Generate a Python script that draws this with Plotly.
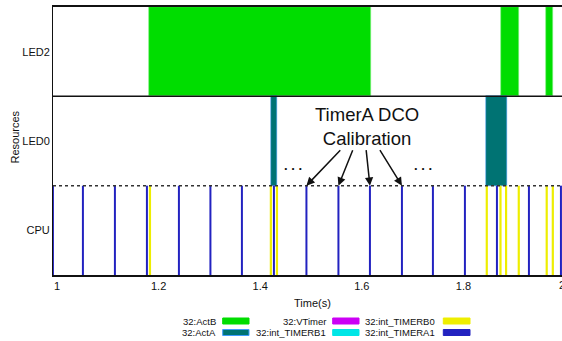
import plotly.graph_objects as go

# ---------------- data ----------------
rows = ["CPU", "LED0", "LED2"]
row_centers = [0.5, 1.5, 2.5]

actb_start = [1.182, 1.874, 1.963]   # LED2 : 32:ActB
actb_end = [1.618, 1.909, 1.977]
acta_start = [1.422, 1.845]          # LED0 : 32:ActA
acta_end = [1.433, 1.885]

timera1 = [0.992, 1.051, 1.114, 1.177, 1.240, 1.302, 1.364, 1.427, 1.491,
           1.554, 1.616, 1.679, 1.740, 1.803, 1.866, 1.929, 1.992]   # CPU : 32:int_TIMERA1
timerb0 = [1.183, 1.421, 1.433, 1.846, 1.873, 1.884, 1.909, 1.964, 1.976]  # CPU : 32:int_TIMERB0

calib_idx = [8, 9, 10, 11]   # TIMERA1 events pointed at by the annotation

x_ticks = [1.0, 1.2, 1.4, 1.6, 1.8]
x_tick_text = ["1", "1.2", "1.4", "1.6", "1.8"]

legend_names = ["32:ActB", "32:ActA", "32:VTimer", "32:int_TIMERB1", "32:int_TIMERB0", "32:int_TIMERA1"]
colors = {
    "32:ActB": "#00DD00",
    "32:ActA": "#007373",
    "32:VTimer": "#CC00F5",
    "32:int_TIMERB1": "#00E6E6",
    "32:int_TIMERB0": "#EEEE00",
    "32:int_TIMERA1": "#2222C0",
}
edge = {"32:ActA": "#3D9BFF"}

FONT = "Liberation Sans, Arial, sans-serif"
W, H = 562, 341
L, R, T, B = 53, 0, 7, 66
PW, PH = W - L - R, H - T - B


def px(xp):
    return (xp - L) / PW


def py(yp):
    return (H - B - yp) / PH


def vlines(ts):
    xs, ys = [], []
    for t in ts:
        xs += [t, t, None]
        ys += [0, 1, None]
    return xs, ys


fig = go.Figure()

# LED intervals as horizontal bars
fig.add_trace(go.Bar(
    orientation="h", y=[row_centers[2]] * len(actb_start), base=actb_start,
    x=[e - s for s, e in zip(actb_start, actb_end)], width=1,
    marker=dict(color=colors["32:ActB"], line=dict(color="#7CF07C", width=0.6)),
    name="32:ActB", showlegend=False, hoverinfo="skip"))
fig.add_trace(go.Bar(
    orientation="h", y=[row_centers[1]] * len(acta_start), base=acta_start,
    x=[e - s for s, e in zip(acta_start, acta_end)], width=1,
    marker=dict(color=colors["32:ActA"], line=dict(color=edge["32:ActA"], width=0.5)),
    name="32:ActA", showlegend=False, hoverinfo="skip"))

# CPU events as vertical lines
xa, ya = vlines(timera1)
fig.add_trace(go.Scatter(x=xa, y=ya, mode="lines", line=dict(color=colors["32:int_TIMERA1"], width=2),
                         name="32:int_TIMERA1", showlegend=False, hoverinfo="skip"))
xb, yb = vlines(timerb0)
fig.add_trace(go.Scatter(x=xb, y=yb, mode="lines", line=dict(color=colors["32:int_TIMERB0"], width=2.2),
                         name="32:int_TIMERB0", showlegend=False, hoverinfo="skip"))

x0 = 1 + (L - 57) / 508
x1 = 1 + (W - R - 57) / 508

shapes = []
# row separators
shapes.append(dict(type="line", xref="paper", yref="y", x0=0, x1=1, y0=2, y1=2,
                   line=dict(color="#111111", width=1.5)))
shapes.append(dict(type="line", xref="paper", yref="y", x0=0, x1=1, y0=1, y1=1,
                   line=dict(color="#333333", width=1.5, dash="dot")))

annotations = []
# Calibration annotation text
annotations.append(dict(x=px(366.7), y=py(126), xref="paper", yref="paper",
                        text="TimerA DCO<br>Calibration", showarrow=False,
                        font=dict(family=FONT, size=18.5, color="#111111"),
                        xanchor="center", yanchor="middle"))
tails = [(341.7, 148), (353.3, 148), (366.0, 148), (379.0, 148)]
for i, (tx, ty) in zip(calib_idx, tails):
    hx = 57 + (timera1[i] - 1) * 508
    annotations.append(dict(x=timera1[i], y=1, xref="x", yref="y", text="",
                            showarrow=True, axref="pixel", ayref="pixel",
                            ax=tx - hx, ay=ty - 185,
                            arrowhead=2, arrowsize=1.1, arrowwidth=1.5, arrowcolor="#111111",
                            standoff=0))
for dx in (293, 423):
    annotations.append(dict(x=px(dx), y=py(165), xref="paper", yref="paper", text="<b>. . .</b>",
                            showarrow=False, font=dict(family=FONT, size=13, color="#111111"),
                            xanchor="center", yanchor="middle"))

# axis titles
annotations.append(dict(x=px(312), y=py(302.7), xref="paper", yref="paper", text="Time(s)",
                        showarrow=False, font=dict(family=FONT, size=11, color="#111111"),
                        xanchor="center", yanchor="middle"))
annotations.append(dict(x=px(14), y=py(137.5), xref="paper", yref="paper", text="Resources",
                        showarrow=False, textangle=-90, font=dict(family=FONT, size=11, color="#111111"),
                        xanchor="center", yanchor="middle"))
# partially visible last tick label
annotations.append(dict(x=px(561.5), y=py(285), xref="paper", yref="paper", text="2",
                        showarrow=False, font=dict(family=FONT, size=11, color="#111111"),
                        xanchor="center", yanchor="middle"))

# custom legend (label left of swatch)
leg_text_right = [217.5, 217.5, 327.5, 327.5, 437, 437]
leg_sw_x = [(222.7, 249), (222.7, 249), (332.7, 359), (332.7, 359), (443.3, 470), (443.3, 470)]
leg_y = [321, 332.5, 321, 332.5, 321, 332.5]
for name, tr, (sa, sb), yy in zip(legend_names, leg_text_right, leg_sw_x, leg_y):
    annotations.append(dict(x=px(tr), y=py(yy), xref="paper", yref="paper", text=name,
                            showarrow=False, font=dict(family=FONT, size=9.5, color="#111111"),
                            xanchor="right", yanchor="middle"))
    shapes.append(dict(type="rect", xref="paper", yref="paper",
                       x0=px(sa), x1=px(sb), y0=py(yy + 3), y1=py(yy - 3),
                       fillcolor=colors[name],
                       line=dict(color=edge.get(name, colors[name]), width=1)))

fig.update_layout(
    width=W, height=H, margin=dict(l=L, r=R, t=T, b=B),
    paper_bgcolor="white", plot_bgcolor="white",
    barmode="overlay", bargap=0,
    font=dict(family=FONT, size=11, color="#111111"),
    xaxis=dict(range=[x0, x1], tickvals=x_ticks, ticktext=x_tick_text, showgrid=False,
               zeroline=False, showline=True, mirror=True, linecolor="#111111", linewidth=1.5,
               ticks="", tickfont=dict(size=11)),
    yaxis=dict(range=[0, 3], tickvals=row_centers, ticktext=rows, showgrid=False,
               zeroline=False, showline=True, mirror=False, linecolor="#111111", linewidth=1,
               ticks="", tickfont=dict(size=11)),
    shapes=shapes, annotations=annotations, showlegend=False,
)

fig.write_html("out.html", config={"displayModeBar": False},
               post_script="document.body.style.margin='0';document.body.style.padding='0';"
                           "document.body.style.overflow='hidden';"
                           "document.documentElement.style.overflow='hidden';")
